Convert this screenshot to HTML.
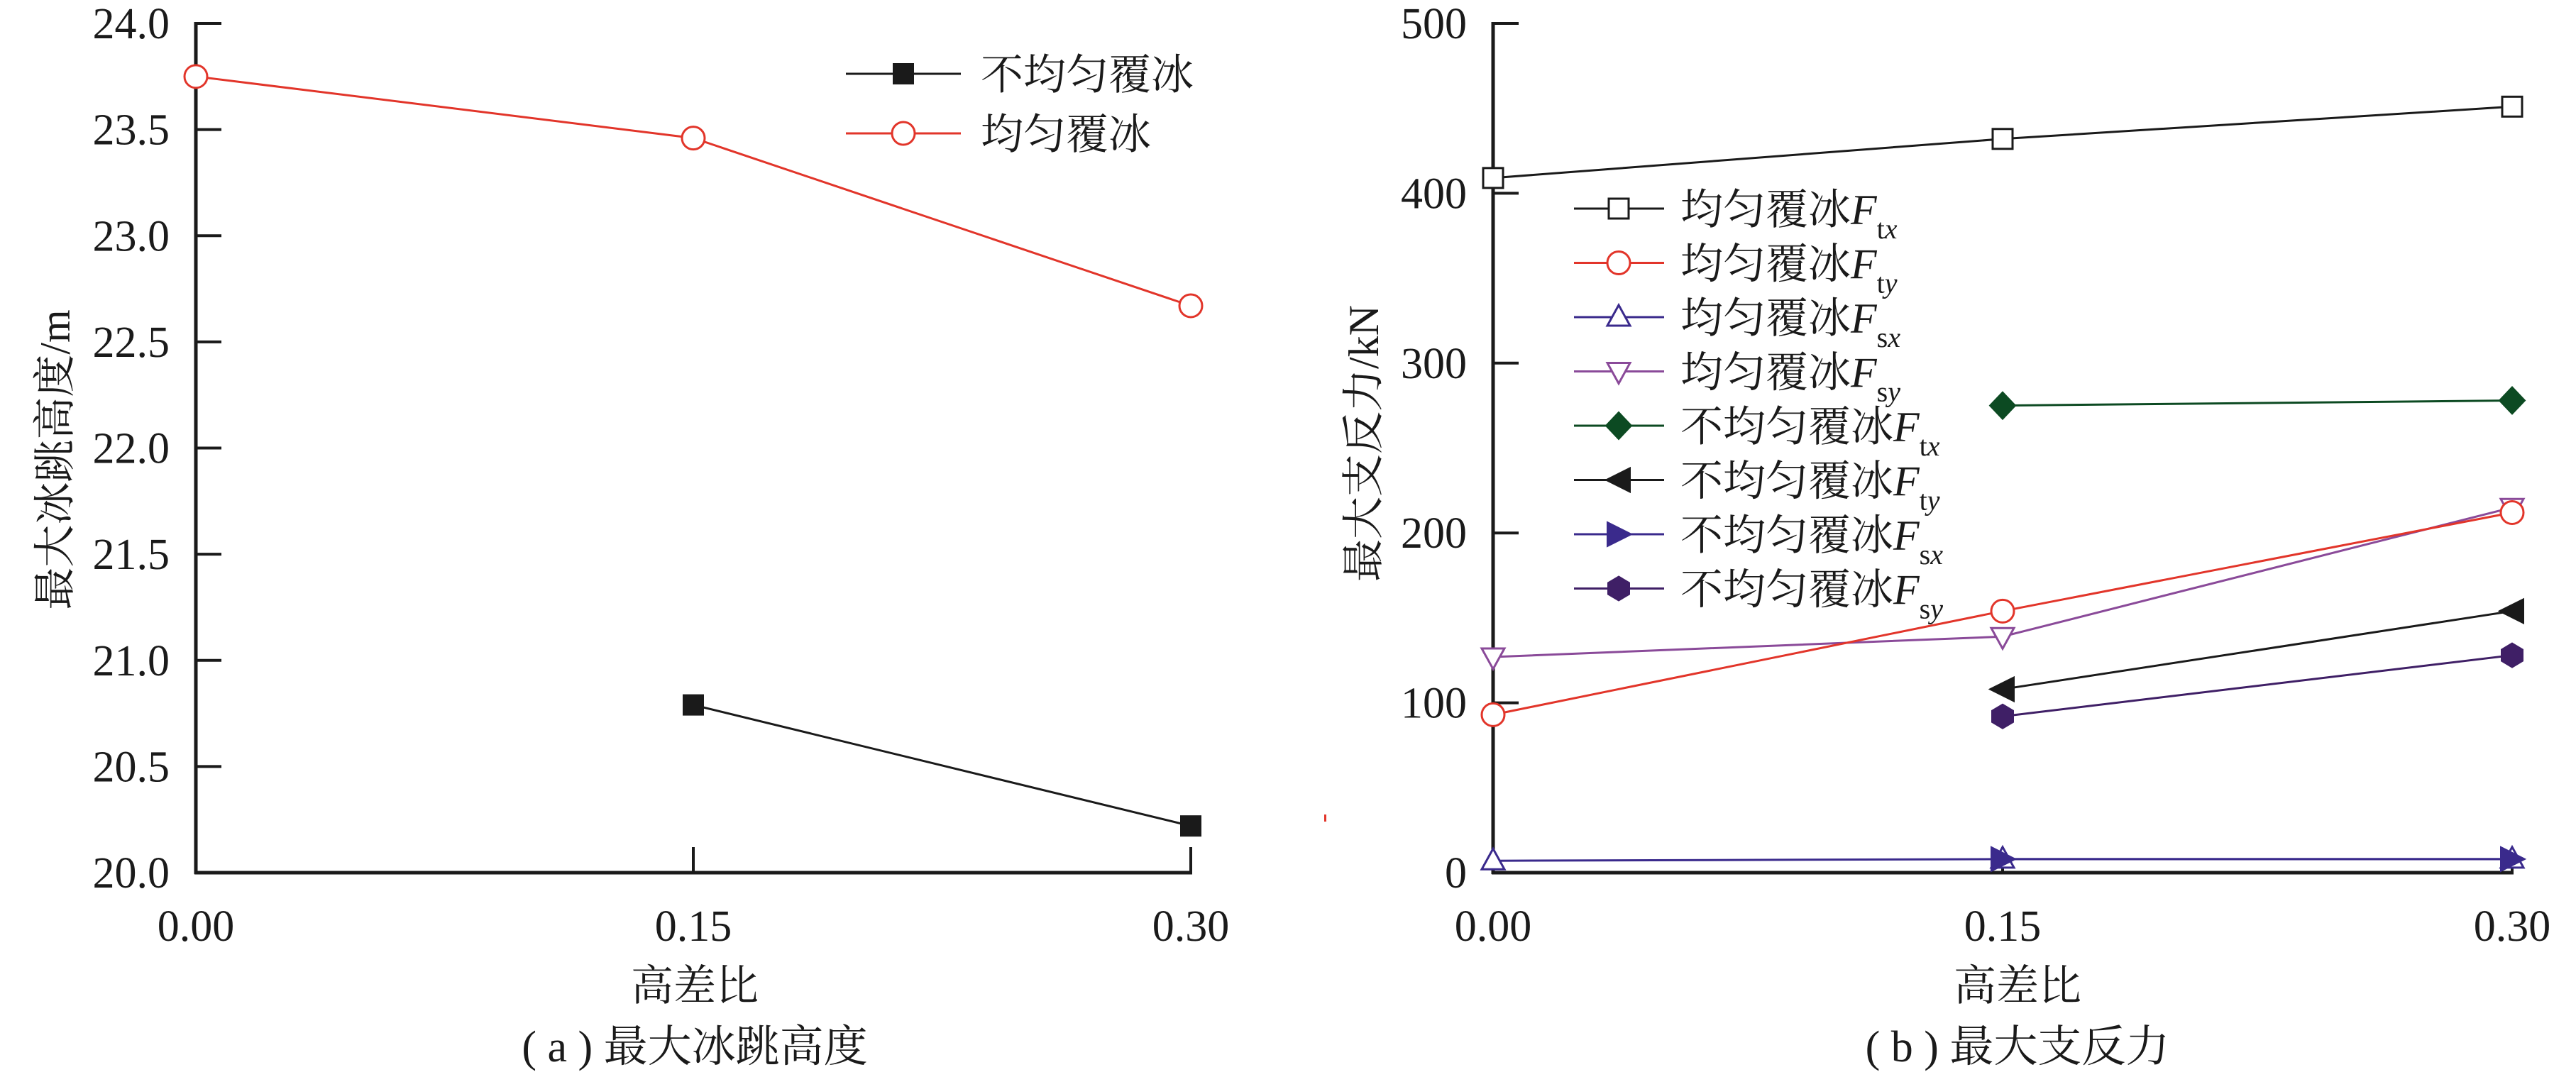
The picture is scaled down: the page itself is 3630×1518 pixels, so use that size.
<!DOCTYPE html>
<html><head><meta charset="utf-8"><style>
html,body{margin:0;padding:0;background:#fff}
svg{display:block}
text{font-family:"Liberation Serif","DejaVu Serif","Noto Serif CJK SC","Noto Sans CJK SC",serif;fill:#1a1a1a}
</style></head><body>
<svg id="fig" width="3630" height="1518" viewBox="0 0 3630 1518" xmlns="http://www.w3.org/2000/svg"></svg>
<script>
// ---- chart (a) data ----
const xCats = [0.00, 0.15, 0.30];
const xTickLabels = ["0.00", "0.15", "0.30"];
const aYTicks = [20.0, 20.5, 21.0, 21.5, 22.0, 22.5, 23.0, 23.5, 24.0];
const aYTickLabels = ["20.0","20.5","21.0","21.5","22.0","22.5","23.0","23.5","24.0"];
const aUniform = [23.75, 23.46, 22.67];
const aNonUniform = [null, 20.79, 20.22];
// ---- chart (b) data ----
const bYTicks = [0, 100, 200, 300, 400, 500];
const bYTickLabels = ["0","100","200","300","400","500"];
const uFtx = [409, 432, 451];
const uFty = [93, 154, 212];
const uFsx = [7, 8, 8];
const uFsy = [127, 139, 215];
const nFtx = [null, 275, 278];
const nFty = [null, 108, 154];
const nFsx = [null, 8, 8];
const nFsy = [null, 92, 128];

const NS = "http://www.w3.org/2000/svg";
const FONT = '"Liberation Serif","DejaVu Serif","Noto Serif CJK SC","Noto Sans CJK SC",serif';
const svg = document.getElementById("fig");
function mk(tag, attrs, parent) {
  const e = document.createElementNS(NS, tag);
  for (const k in attrs) e.setAttribute(k, attrs[k]);
  (parent || svg).appendChild(e);
  return e;
}
function txt(s, x, y, size, anchor, parent) {
  const t = mk("text", {x: x, y: y, "font-size": size, "text-anchor": anchor || "middle", "font-family": FONT}, parent);
  t.textContent = s;
  return t;
}
function marker(g, kind, cx, cy, color) {
  const r = 16;
  let m;
  if (kind === "circle") m = mk("circle", {cx: cx, cy: cy, r: r, fill: "#fff", stroke: color, "stroke-width": 3}, g);
  else if (kind === "square") m = mk("rect", {x: cx - 14, y: cy - 14, width: 28, height: 28, fill: "#fff", stroke: color, "stroke-width": 3}, g);
  else if (kind === "fsquare") m = mk("rect", {x: cx - 14, y: cy - 14, width: 28, height: 28, fill: color, stroke: color, "stroke-width": 2}, g);
  else if (kind === "tri") m = mk("polygon", {points: `${cx},${cy-17} ${cx-16},${cy+12} ${cx+16},${cy+12}`, fill: "#fff", stroke: color, "stroke-width": 3}, g);
  else if (kind === "itri") m = mk("polygon", {points: `${cx},${cy+17} ${cx-16},${cy-12} ${cx+16},${cy-12}`, fill: "#fff", stroke: color, "stroke-width": 3}, g);
  else if (kind === "diamond") m = mk("polygon", {points: `${cx},${cy-19} ${cx+18},${cy} ${cx},${cy+19} ${cx-18},${cy}`, fill: color, stroke: color, "stroke-width": 2}, g);
  else if (kind === "left") m = mk("polygon", {points: `${cx-18},${cy} ${cx+16},${cy-17} ${cx+16},${cy+17}`, fill: color, stroke: color, "stroke-width": 2}, g);
  else if (kind === "right") m = mk("polygon", {points: `${cx+18},${cy} ${cx-16},${cy-17} ${cx-16},${cy+17}`, fill: color, stroke: color, "stroke-width": 2}, g);
  else if (kind === "hex") m = mk("polygon", {points: `${cx},${cy-17} ${cx+15},${cy-8} ${cx+15},${cy+8} ${cx},${cy+17} ${cx-15},${cy+8} ${cx-15},${cy-8}`, fill: color, stroke: color, "stroke-width": 2}, g);
  
  
  return m;
}
function series(g, vals, xf, yf, color, kind, name) {
  const sg = mk("g", {}, g);
  
  
  const pts = [];
  vals.forEach((v, i) => { if (v !== null) pts.push([xf(xCats[i]), yf(v)]); });
  const line = mk("polyline", {points: pts.map(p => p.join(",")).join(" "), fill: "none", stroke: color, "stroke-width": 3}, sg);
  
  
  pts.forEach(p => marker(sg, kind, p[0], p[1], color));
}
function axes(g, x0, x1, yTop, yBot, ticksY, tickLabels, yf, xf, name) {
  const ax = mk("g", {}, g);
  
  
  mk("line", {x1: x0, y1: yTop - 2, x2: x0, y2: yBot + 2, stroke: "#1a1a1a", "stroke-width": 5}, ax);
  mk("line", {x1: x0 - 2, y1: yBot, x2: x1 + 2, y2: yBot, stroke: "#1a1a1a", "stroke-width": 5}, ax);
  ticksY.forEach((v, i) => {
    const y = yf(v);
    if (i > 0) mk("line", {x1: x0, y1: y, x2: x0 + 36, y2: y, stroke: "#1a1a1a", "stroke-width": 4}, ax);
    const t = txt(tickLabels[i], x0 - 37, y + 21, 62, "end", ax);
    
    
  });
  xCats.forEach((c, i) => {
    const x = xf(c);
    if (i > 0) mk("line", {x1: x, y1: yBot, x2: x, y2: yBot - 36, stroke: "#1a1a1a", "stroke-width": 4}, ax);
    const t = txt(xTickLabels[i], x, yBot + 96, 62, "middle", ax);
    
    
  });
}

// ===== chart (a) =====
const gA = mk("g", {});


const aX0 = 276, aX1 = 1678, aTop = 33, aBot = 1230;
const axA = v => aX0 + (v / 0.30) * (aX1 - aX0);
const ayA = v => aBot - (v - 20) / 4 * (aBot - aTop);
axes(gA, aX0, aX1, aTop, aBot, aYTicks, aYTickLabels, ayA, axA, "chart-a");
series(gA, aUniform, axA, ayA, "#e2352a", "circle", "series-uniform-ice");
series(gA, aNonUniform, axA, ayA, "#1a1a1a", "fsquare", "series-nonuniform-ice");
const legA = mk("g", {}, gA);


[["不均匀覆冰", "#1a1a1a", "fsquare", 104], ["均匀覆冰", "#e2352a", "circle", 188]].forEach(r => {
  const e = mk("g", {}, legA);
  
  
  mk("line", {x1: 1192, y1: r[3], x2: 1354, y2: r[3], stroke: r[1], "stroke-width": 3}, e);
  marker(e, r[2], 1273, r[3], r[1]);
  txt(r[0], 1382, r[3] + 22, 60, "start", e);
});
let t;
t = txt("最大冰跳高度/m", 0, 0, 60, "middle", gA);
t.setAttribute("transform", "translate(98,648) rotate(-90)");


t = txt("高差比", 979, 1410, 60, "middle", gA);


t = txt("( a ) 最大冰跳高度", 979, 1496, 62, "middle", gA);


mk("rect", {x: 1866, y: 1148, width: 3, height: 10, fill: "#e2352a"}, gA);

// ===== chart (b) =====
const gB = mk("g", {});


const bX0 = 2104, bX1 = 3540, bTop = 33, bBot = 1230;
const axB = v => bX0 + (v / 0.30) * (bX1 - bX0);
const ayB = v => bBot - v / 500 * (bBot - bTop);
axes(gB, bX0, bX1, bTop, bBot, bYTicks, bYTickLabels, ayB, axB, "chart-b");
const C_RED = "#e2352a", C_BLUE = "#3a2a8c", C_PUR = "#8a4a99", C_GRN = "#0c4a22", C_BLK = "#1a1a1a", C_DPUR = "#3f1f66";
series(gB, uFsx, axB, ayB, C_BLUE, "tri", "series-uniform-fsx");
series(gB, nFsx, axB, ayB, C_BLUE, "right", "series-nonuniform-fsx");
series(gB, uFsy, axB, ayB, C_PUR, "itri", "series-uniform-fsy");
series(gB, uFty, axB, ayB, C_RED, "circle", "series-uniform-fty");
series(gB, uFtx, axB, ayB, C_BLK, "square", "series-uniform-ftx");
series(gB, nFtx, axB, ayB, C_GRN, "diamond", "series-nonuniform-ftx");
series(gB, nFty, axB, ayB, C_BLK, "left", "series-nonuniform-fty");
series(gB, nFsy, axB, ayB, C_DPUR, "hex", "series-nonuniform-fsy");
const legB = mk("g", {}, gB);


const legRows = [
  ["均匀覆冰", "t", "x", C_BLK, "square"], ["均匀覆冰", "t", "y", C_RED, "circle"],
  ["均匀覆冰", "s", "x", C_BLUE, "tri"], ["均匀覆冰", "s", "y", C_PUR, "itri"],
  ["不均匀覆冰", "t", "x", C_GRN, "diamond"], ["不均匀覆冰", "t", "y", C_BLK, "left"],
  ["不均匀覆冰", "s", "x", C_BLUE, "right"], ["不均匀覆冰", "s", "y", C_DPUR, "hex"]];
legRows.forEach((r, i) => {
  const y = 294 + i * 76.5;
  const e = mk("g", {}, legB);
  
  
  mk("line", {x1: 2218, y1: y, x2: 2345, y2: y, stroke: r[3], "stroke-width": 3}, e);
  marker(e, r[4], 2281, y, r[3]);
  const tt = mk("text", {x: 2368, y: y + 22, "font-size": 60, "font-family": FONT}, e);
  const s1 = mk("tspan", {}, tt); s1.textContent = r[0];
  const s2 = mk("tspan", {"font-style": "italic"}, tt); s2.textContent = "F";
  const s3 = mk("tspan", {"font-size": 40, dy: 20}, tt); s3.textContent = r[1];
  const s4 = mk("tspan", {"font-size": 40, "font-style": "italic"}, tt); s4.textContent = r[2];
});
t = txt("最大支反力/kN", 0, 0, 60, "middle", gB);
t.setAttribute("transform", "translate(1942,625) rotate(-90)");


t = txt("高差比", 2843, 1410, 60, "middle", gB);


t = txt("( b ) 最大支反力", 2843, 1496, 62, "middle", gB);


</script>
</body></html>
